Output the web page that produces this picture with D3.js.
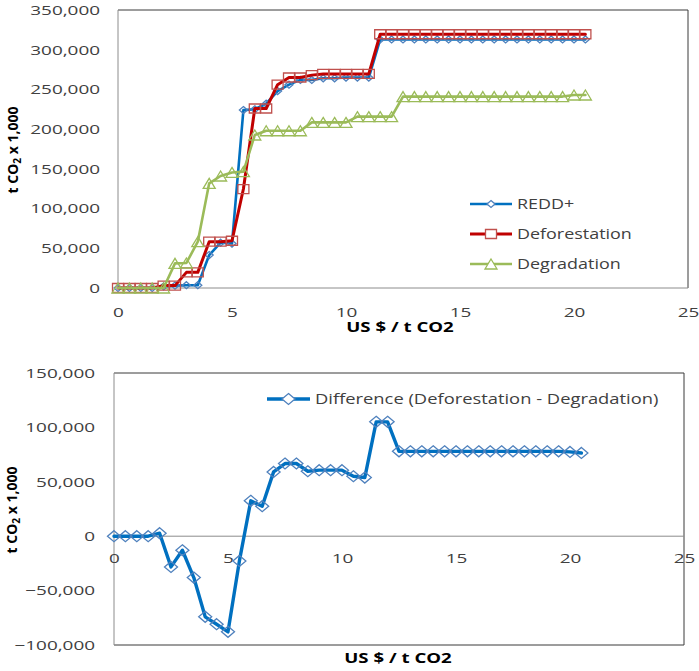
<!DOCTYPE html>
<html><head><meta charset="utf-8">
<script src="https://cdn.jsdelivr.net/npm/d3@7"></script>
<style>
body{margin:0;background:#fff}
svg{display:block}
text{font-family:"Open Sans",sans-serif}
</style>
</head><body>
<svg id="c" width="699" height="671"></svg>
<script>
// ---------- DATA ----------
const xValues = [0,0.5,1,1.5,2,2.5,3,3.5,4,4.5,5,5.5,6,6.5,7,7.5,8,8.5,9,9.5,10,10.5,11,11.5,12,12.5,13,13.5,14,14.5,15,15.5,16,16.5,17,17.5,18,18.5,19,19.5,20,20.5];
const reddPlus = [0,0,0,0,2000,3000,3500,3500,41500,57000,56000,224000,225000,232000,248000,256000,262000,262000,264000,264000,265000,265000,265000,313000,313000,313000,313000,313000,313000,313000,313000,313000,313000,313000,313000,313000,313000,313000,313000,313000,313000,313000];
const deforestation = [0,0,0,0,3000,3000,19700,19700,58300,58300,59500,124600,226000,226000,256000,265000,265000,268000,269500,269500,269500,269500,269500,319500,319500,319500,319500,319500,319500,319500,319500,319500,319500,319500,319500,319500,319500,319500,319500,319500,319500,319500];
const degradation = [0,0,0,0,0,31000,31500,58300,131800,141000,145500,146500,192600,198000,198000,198000,198000,208500,208500,208500,208500,215700,215700,215700,215700,241000,241000,241000,241000,241000,241000,241000,241000,241000,241000,241000,241000,241000,241000,241000,243000,243000];
const difference = [0,0,0,0,2750,-28200,-12900,-38000,-74100,-80900,-87900,-22700,32500,27600,59100,66800,66800,59700,60700,60700,60700,55100,53900,105100,105100,78000,78000,78000,78000,78000,78000,78000,78000,78000,78000,78000,78000,78000,78000,78000,77500,76500];
const seriesNames = ["REDD+","Deforestation","Degradation"];
const diffName = "Difference (Deforestation - Degradation)";
const xTicks = [0,5,10,15,20,25];
const topYTicks = [0,50000,100000,150000,200000,250000,300000,350000];
const bottomYTicks = [-100000,-50000,0,50000,100000,150000];
const xTitle = "US $ / t CO2";

// ---------- HELPERS ----------
const svg = d3.select("#c");
svg.append("rect").attr("width",699).attr("height",671).attr("fill","#fff");
const fmt = d3.format(",");
const DARK = "#3a3a3a", GRAY = "#8c8c8c", TXT = "#404040";
function stretch(sel, f){
  sel.each(function(){
    const len = this.getComputedTextLength();
    d3.select(this).attr("textLength", len*f).attr("lengthAdjust","spacingAndGlyphs");
  });
}
const shapes = {
  diamond:(w,h)=>`M0,${-h/2}L${w/2},0L0,${h/2}L${-w/2},0Z`,
  square:(w,h)=>`M${-w/2},${-h/2}h${w}v${h}h${-w}Z`,
  triangle:(w,h)=>`M0,${-h/2}L${w/2},${h/2}L${-w/2},${h/2}Z`
};
function drawSeries(g, x, y, vals, st){
  const data = xValues.map((d,i)=>[d, vals[i]]);
  g.append("path").datum(data)
    .attr("d", d3.line().x(d=>x(d[0])).y(d=>y(d[1])))
    .attr("fill","none").attr("stroke",st.line).attr("stroke-width",st.lw)
    .attr("stroke-linejoin","round").attr("stroke-linecap","round");
  g.selectAll(null).data(data).enter().append("path")
    .attr("transform",d=>`translate(${x(d[0])},${y(d[1])})`)
    .attr("d", shapes[st.shape](st.mw, st.mh))
    .attr("fill","none").attr("stroke",st.mk).attr("stroke-width",1.3);
}
function legendItem(g, x0, x1, y, label, st, fs, f){
  g.append("line").attr("x1",x0).attr("x2",x1).attr("y1",y).attr("y2",y)
    .attr("stroke",st.line).attr("stroke-width",st.lw);
  g.append("path").attr("transform",`translate(${(x0+x1)/2},${y})`)
    .attr("d", shapes[st.shape](st.mw, st.mh))
    .attr("fill","#fff").attr("stroke",st.mk).attr("stroke-width",1.3);
  const t = g.append("text").attr("x",x1+5).attr("y",y).attr("dy","0.35em")
    .attr("font-size",fs).attr("fill",TXT).text(label);
  stretch(t, f);
}
function yTitle(x, yc){
  const t = svg.append("text").attr("transform",`translate(${x},${yc}) rotate(-90)`)
    .attr("text-anchor","middle").attr("font-size",14).attr("font-weight","bold").attr("fill","#000");
  t.append("tspan").text("t CO");
  t.append("tspan").attr("font-size",10).attr("dy",3).text("2");
  t.append("tspan").attr("dy",-3).text(" x 1,000");
}

// ---------- TOP CHART ----------
const T = {l:118, r:688, t:10, b:288};
const xT = d3.scaleLinear().domain([0,25]).range([T.l,T.r]);
const yT = d3.scaleLinear().domain([0,350000]).range([T.b,T.t]);
const gT = svg.append("g");
gT.append("path").attr("d",`M${T.l},${T.t}H${T.r}V${T.b}`).attr("fill","none").attr("stroke",DARK).attr("stroke-width",1);
gT.append("line").attr("x1",T.l).attr("x2",T.l).attr("y1",T.t).attr("y2",T.b).attr("stroke",GRAY);
gT.append("line").attr("x1",T.l).attr("x2",T.r).attr("y1",T.b).attr("y2",T.b).attr("stroke",GRAY);

const yAxT = gT.append("g").attr("transform",`translate(${T.l},0)`)
  .call(d3.axisLeft(yT).tickValues(topYTicks).tickFormat(fmt).tickSize(0).tickPadding(18));
const xAxT = gT.append("g").attr("transform",`translate(0,${T.b})`)
  .call(d3.axisBottom(xT).tickValues(xTicks).tickSize(0).tickPadding(19));
[yAxT,xAxT].forEach(a=>{
  a.select(".domain").remove();
  a.selectAll("text").attr("font-size",13.5).attr("fill",TXT).style("font-family","'Open Sans',sans-serif");
  stretch(a.selectAll("text"),1.4);
});

const stRedd = {line:"#0070C0", mk:"#4F81BD", lw:2.6, shape:"diamond", mw:8, mh:7};
const stDef  = {line:"#C00000", mk:"#C0504D", lw:3, shape:"square", mw:11, mh:9};
const stDeg  = {line:"#9BBB59", mk:"#9BBB59", lw:2.6, shape:"triangle", mw:12, mh:10};
drawSeries(gT, xT, yT, reddPlus, stRedd);
drawSeries(gT, xT, yT, deforestation, stDef);
drawSeries(gT, xT, yT, degradation, stDeg);

legendItem(gT, 470, 512, 204, seriesNames[0], stRedd, 14, 1.28);
legendItem(gT, 470, 512, 234, seriesNames[1], stDef, 14, 1.28);
legendItem(gT, 470, 512, 264, seriesNames[2], stDeg, 14, 1.28);

const xtT = svg.append("text").attr("x",400).attr("y",332).attr("text-anchor","middle")
  .attr("font-size",13.5).attr("font-weight","bold").attr("fill","#000").text(xTitle);
stretch(xtT,1.38);
yTitle(18,150);

// ---------- BOTTOM CHART ----------
const B = {l:114, r:684, t:373, b:645};
const xB = d3.scaleLinear().domain([0,25]).range([B.l,B.r]);
const yB = d3.scaleLinear().domain([-100000,150000]).range([B.b,B.t]);
const gB = svg.append("g");
gB.append("path").attr("d",`M${B.l},${B.t}H${B.r}V${B.b}H${B.l}`).attr("fill","none").attr("stroke",DARK).attr("stroke-width",1);
gB.append("line").attr("x1",B.l).attr("x2",B.l).attr("y1",B.t).attr("y2",B.b).attr("stroke",GRAY);
gB.append("line").attr("x1",B.l).attr("x2",B.r).attr("y1",yB(0)).attr("y2",yB(0)).attr("stroke",GRAY);

const yAxB = gB.append("g").attr("transform",`translate(${B.l},0)`)
  .call(d3.axisLeft(yB).tickValues(bottomYTicks).tickFormat(fmt).tickSize(0).tickPadding(19));
const xAxB = gB.append("g").attr("transform",`translate(0,${yB(0)})`)
  .call(d3.axisBottom(xB).tickValues(xTicks).tickSize(0).tickPadding(17));
[yAxB,xAxB].forEach(a=>{
  a.select(".domain").remove();
  a.selectAll("text").attr("font-size",13.5).attr("fill",TXT).style("font-family","'Open Sans',sans-serif");
  stretch(a.selectAll("text"),1.4);
});

const stDiff = {line:"#0070C0", mk:"#4F81BD", lw:3.4, shape:"diamond", mw:13, mh:11};
drawSeries(gB, xB, yB, difference, stDiff);
legendItem(gB, 267, 310, 399, diffName, stDiff, 14, 1.31);

const xtB = svg.append("text").attr("x",398).attr("y",663).attr("text-anchor","middle")
  .attr("font-size",13.5).attr("font-weight","bold").attr("fill","#000").text(xTitle);
stretch(xtB,1.38);
yTitle(17,510);
</script>
</body></html>
